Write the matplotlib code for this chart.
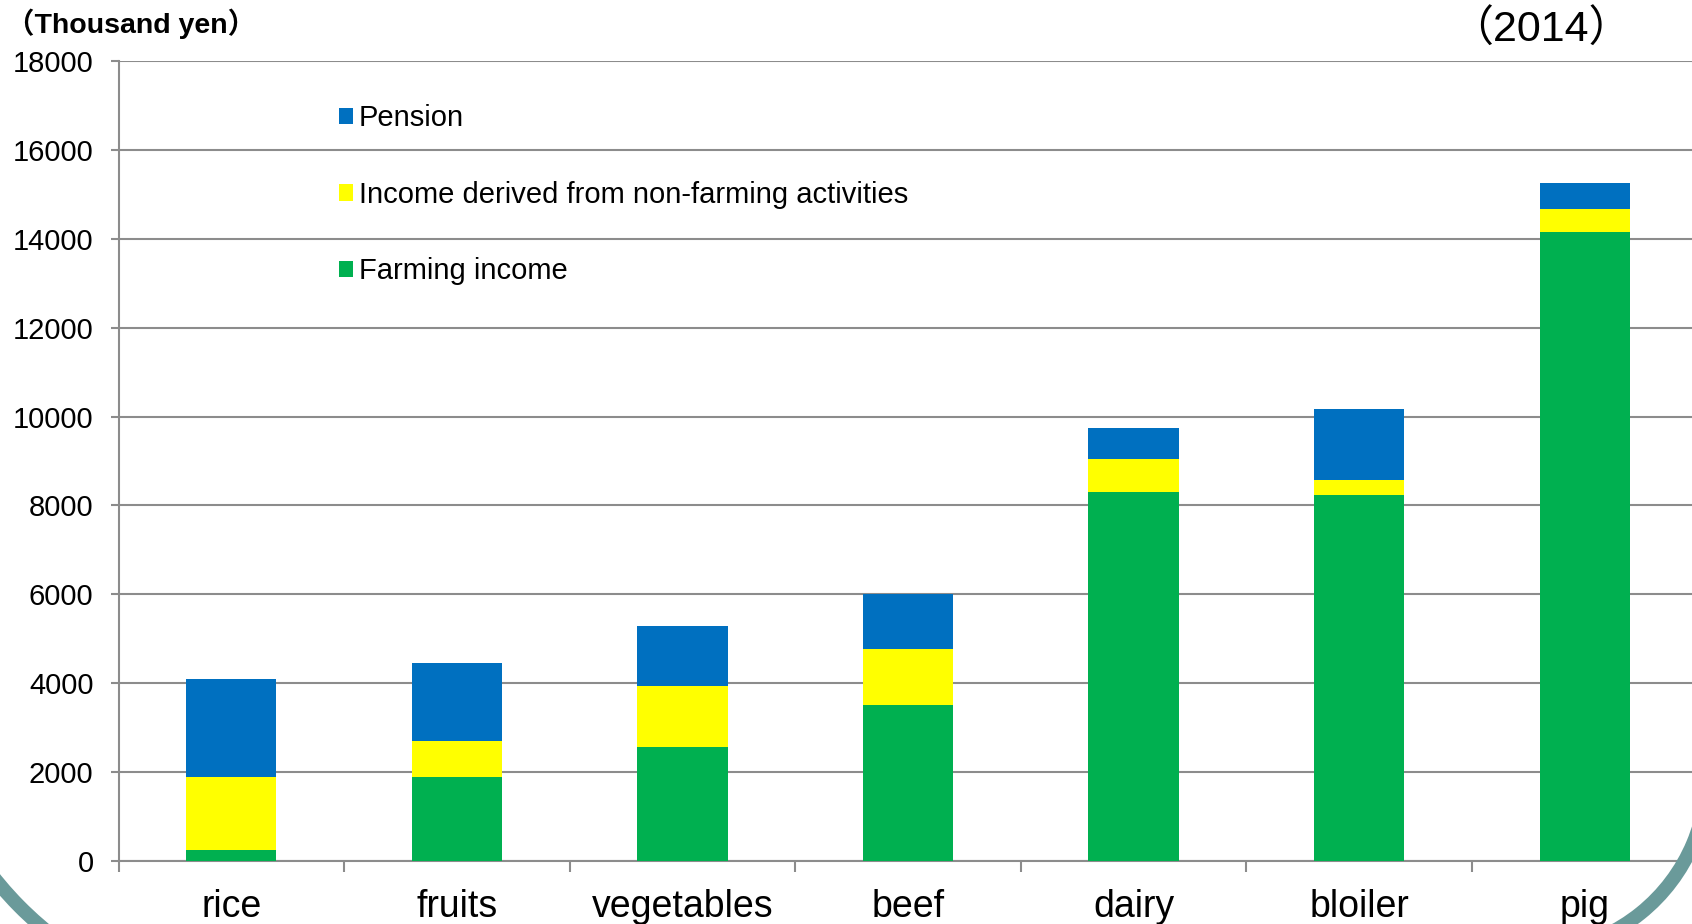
import matplotlib.pyplot as plt
import numpy as np
from matplotlib.patches import Arc

# Income of farm households by type of farming (2014), thousand yen
categories = ['rice', 'fruits', 'vegetables', 'beef', 'dairy', 'bloiler', 'pig']
farming_income = [250, 1880, 2575, 3520, 8310, 8240, 14160]
non_farming_income = [1640, 810, 1360, 1240, 725, 340, 510]
pension = [2210, 1770, 1360, 1240, 705, 1580, 580]
y_ticks = [0, 2000, 4000, 6000, 8000, 10000, 12000, 14000, 16000, 18000]

plt.rcParams['font.family'] = ['Liberation Sans', 'Noto Sans CJK JP']

W, H = 1692, 924
GRAY = '#8c8c8c'

fig = plt.figure(figsize=(W / 100, H / 100), dpi=100)
ax = fig.add_axes([118.5 / W, 63 / H, 1579 / W, 800 / H])

x = np.arange(len(categories))
farm = np.array(farming_income)
non = np.array(non_farming_income)
pen = np.array(pension)

b_farm = ax.bar(x, farm, 0.4, color='#00B050', label='Farming income', zorder=3)
b_non = ax.bar(x, non, 0.4, bottom=farm, color='#FFFF00',
               label='Income derived from non-farming activities', zorder=3)
b_pen = ax.bar(x, pen, 0.4, bottom=farm + non, color='#0070C0', label='Pension', zorder=3)

ax.set_xlim(-0.5, len(categories) - 0.5)
ax.set_ylim(0, 18000)
ax.set_yticks(y_ticks)
ax.yaxis.grid(True, color=GRAY, lw=1.5)
ax.set_axisbelow(True)

for s in ['top', 'right']:
    ax.spines[s].set_visible(False)
for s in ['left', 'bottom']:
    ax.spines[s].set_color(GRAY)
    ax.spines[s].set_linewidth(1.5)

ax.set_xticks(x, categories)
ax.set_xticks(np.arange(-0.5, len(categories), 1), minor=True)
ax.tick_params(axis='x', which='major', length=0, pad=20.5, labelsize=27)
ax.tick_params(axis='x', which='minor', length=8, width=1.5, color=GRAY)
ax.tick_params(axis='y', length=6, width=1.5, color=GRAY, pad=12, labelsize=21)

ax.legend(handles=[b_pen, b_non, b_farm], loc='upper left',
          bbox_to_anchor=(339 / W, 1 - 104.5 / H), bbox_transform=fig.transFigure,
          frameon=False, borderpad=0, borderaxespad=0, fontsize=21,
          handlelength=0.48, handleheight=0.48, handletextpad=0.2, labelspacing=1.66)

fig.text(6 / W, 1 - 33 / H, '（Thousand yen）', fontsize=20.5, fontweight='bold',
         va='baseline', ha='left')
fig.text(1541 / W, 1 - 42 / H, '（2014）', fontsize=31, va='baseline', ha='center')

# teal slide frame corners
teal = '#6A9A9A'
fig.add_artist(Arc((268 / W, 264 / H), 700 / W, 700 / H, theta1=195, theta2=265,
                   transform=fig.transFigure, color=teal, lw=10, zorder=10))
fig.add_artist(Arc((1529 / W, 149.5 / H), 356 / W, 356 / H, theta1=-100, theta2=10,
                   transform=fig.transFigure, color=teal, lw=10, zorder=10))

fig.savefig('out.png', dpi=100)
